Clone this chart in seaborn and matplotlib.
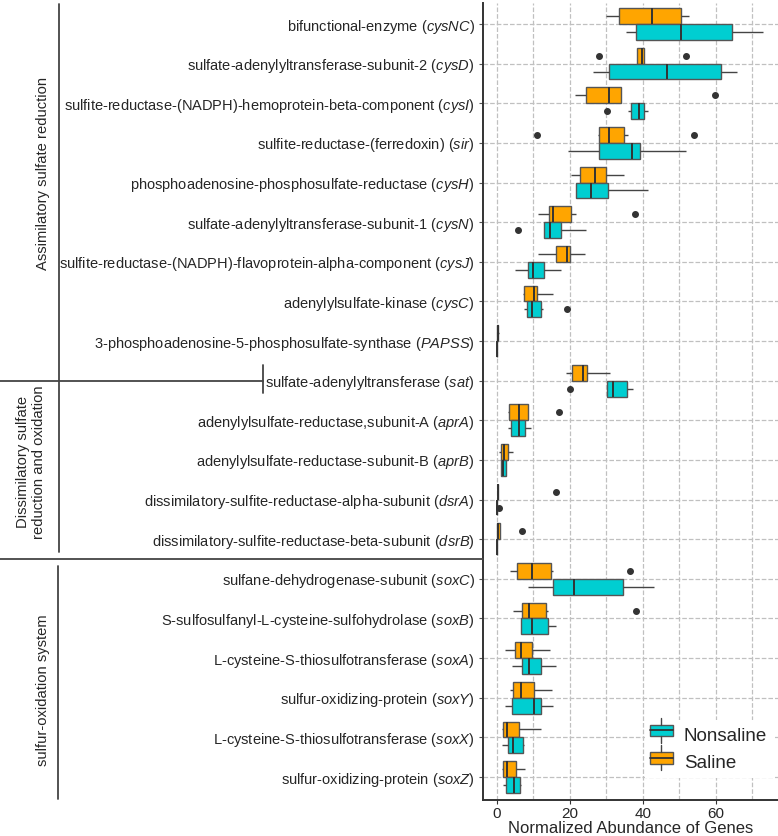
import pandas as pd
import matplotlib.pyplot as plt
import seaborn as sns
from matplotlib.lines import Line2D
from matplotlib.patches import Rectangle
from matplotlib.legend_handler import HandlerBase

# Genes (top to bottom) and their descriptions
genes = ['cysNC', 'cysD', 'cysI', 'sir', 'cysH', 'cysN', 'cysJ', 'cysC', 'PAPSS', 'sat',
         'aprA', 'aprB', 'dsrA', 'dsrB',
         'soxC', 'soxB', 'soxA', 'soxY', 'soxX', 'soxZ']
descricoes = ['bifunctional-enzyme',
              'sulfate-adenylyltransferase-subunit-2',
              'sulfite-reductase-(NADPH)-hemoprotein-beta-component',
              'sulfite-reductase-(ferredoxin)',
              'phosphoadenosine-phosphosulfate-reductase',
              'sulfate-adenylyltransferase-subunit-1',
              'sulfite-reductase-(NADPH)-flavoprotein-alpha-component',
              'adenylylsulfate-kinase',
              '3-phosphoadenosine-5-phosphosulfate-synthase',
              'sulfate-adenylyltransferase',
              'adenylylsulfate-reductase,subunit-A',
              'adenylylsulfate-reductase-subunit-B',
              'dissimilatory-sulfite-reductase-alpha-subunit',
              'dissimilatory-sulfite-reductase-beta-subunit',
              'sulfane-dehydrogenase-subunit',
              'S-sulfosulfanyl-L-cysteine-sulfohydrolase',
              'L-cysteine-S-thiosulfotransferase',
              'sulfur-oxidizing-protein',
              'L-cysteine-S-thiosulfotransferase',
              'sulfur-oxidizing-protein']

# Box summaries (whisker low, Q1, median, Q3, whisker high)
saline_lo  = [30.0, 38.3, 21.5, 27.8, 20.3, 11.4, 11.4, 7.1, 0.0, 18.8, 3.0, 0.7, 0.2, 0.0, 3.5, 4.3, 2.1, 3.5, 1.4, 1.5]
saline_q1  = [33.5, 38.5, 24.4, 28.0, 22.7, 14.4, 16.1, 7.5, 0.1, 20.6, 3.4, 1.2, 0.2, 0.0, 5.6, 7.0, 4.9, 4.5, 1.8, 1.6]
saline_med = [42.5, 39.7, 30.6, 30.6, 26.8, 15.3, 19.3, 10.3, 0.2, 23.5, 6.1, 1.9, 0.2, 0.2, 9.5, 8.9, 6.6, 6.5, 2.7, 2.7]
saline_q3  = [50.5, 40.2, 34.1, 34.8, 29.8, 20.2, 20.0, 11.1, 0.4, 24.8, 8.5, 3.0, 0.2, 0.9, 14.7, 13.4, 9.7, 10.3, 6.0, 5.2]
saline_hi  = [52.7, 40.3, 34.1, 36.0, 34.8, 21.6, 24.1, 15.5, 0.5, 30.9, 8.5, 4.5, 0.2, 0.9, 15.5, 14.1, 14.5, 15.0, 12.0, 7.8]
saline_out = {'cysD': [27.9, 51.8], 'cysI': [59.7], 'sir': [10.9, 53.9], 'cysN': [37.7],
              'aprA': [17.0], 'dsrA': [16.1], 'dsrB': [6.9], 'soxC': [36.5], 'soxB': [38.2]}

nonsaline_lo  = [35.5, 26.4, 35.9, 19.5, 21.7, 13.0, 5.0, 7.3, 0.0, 30.3, 3.0, 1.2, 0.0, 0.0, 8.4, 6.6, 4.2, 2.3, 1.5, 1.8]
nonsaline_q1  = [38.2, 30.7, 36.6, 28.0, 21.7, 13.0, 8.5, 8.3, 0.0, 30.3, 3.9, 1.2, 0.0, 0.0, 15.5, 6.6, 7.0, 4.2, 3.0, 2.6]
nonsaline_med = [50.5, 46.5, 38.9, 37.1, 25.8, 14.5, 9.8, 9.5, 0.0, 31.8, 6.1, 1.8, 0.0, 0.0, 21.2, 9.7, 8.9, 10.3, 4.5, 4.7]
nonsaline_q3  = [64.4, 61.4, 40.4, 39.2, 30.4, 17.6, 12.8, 12.1, 0.0, 35.6, 7.7, 2.5, 0.0, 0.0, 34.5, 13.9, 12.2, 12.2, 7.1, 6.4]
nonsaline_hi  = [72.9, 65.9, 41.4, 51.8, 41.4, 24.3, 17.5, 12.7, 0.0, 37.3, 9.3, 2.5, 0.0, 0.0, 43.0, 16.1, 16.2, 15.3, 7.5, 6.5]
nonsaline_out = {'cysI': [30.3], 'cysN': [5.7], 'cysC': [19.1], 'sat': [20.1], 'dsrA': [0.7]}

cores = {'Saline': '#FFA500', 'Nonsaline': '#00CED1'}


# Turns each summary into observations that reproduce the same quartiles
def montar_dados():
    linhas = []
    grupos = [('Saline', saline_lo, saline_q1, saline_med, saline_q3, saline_hi, saline_out),
              ('Nonsaline', nonsaline_lo, nonsaline_q1, nonsaline_med, nonsaline_q3, nonsaline_hi, nonsaline_out)]
    for nome, lo, q1, med, q3, hi, out in grupos:
        for i, g in enumerate(genes):
            valores = [lo[i]] + [q1[i]] * 4 + [med[i]] * 3 + [q3[i]] * 4 + [hi[i]] + out.get(g, [])
            for v in valores:
                linhas.append({'Gene': g, 'Grupo': nome, 'Valor': v})
    return pd.DataFrame(linhas)


class ChaveBox(HandlerBase):
    def create_artists(self, legend, orig, xd, yd, w, h, fontsize, trans):
        r = Rectangle((xd, yd + h * 0.15), w, h * 0.7, facecolor=orig.get_facecolor(),
                      edgecolor='#555555', lw=1, transform=trans)
        med = Line2D([xd, xd + w], [yd + h / 2] * 2, color='#333333', lw=1.3, transform=trans)
        w1 = Line2D([xd + w / 2] * 2, [yd - h * 0.25, yd + h * 0.15], color='#444444', lw=1, transform=trans)
        w2 = Line2D([xd + w / 2] * 2, [yd + h * 0.85, yd + h * 1.25], color='#444444', lw=1, transform=trans)
        return [r, med, w1, w2]


dados = montar_dados()

sns.set_style('white')
plt.rcParams['font.family'] = ['Liberation Sans', 'DejaVu Sans']
plt.rcParams['mathtext.fontset'] = 'custom'
plt.rcParams['mathtext.rm'] = 'Liberation Sans'
plt.rcParams['mathtext.it'] = 'Liberation Sans:italic'

fig = plt.figure(figsize=(7.78, 8.36), dpi=100)
ax = fig.add_axes([483 / 778, 1 - 800 / 836, 295 / 778, 797 / 836])

sns.boxplot(data=dados, x='Valor', y='Gene', hue='Grupo', order=genes,
            hue_order=['Saline', 'Nonsaline'], palette=cores, orient='h',
            width=0.8, gap=0, saturation=1, linecolor='#555555', linewidth=1,
            showcaps=False,
            flierprops=dict(marker='o', markerfacecolor='#333333', markeredgecolor='#333333', markersize=4),
            medianprops=dict(color='#333333', linewidth=1.4),
            whiskerprops=dict(color='#444444', linewidth=1),
            legend=False, ax=ax)

ax.set_xlim(-3.8, 77)
ax.set_ylim(19.58, -0.53)
ax.set_xticks([0, 20, 40, 60])
ax.set_xticks([10, 30, 50, 70], minor=True)
ax.set_yticks(range(len(genes)))
ax.set_yticklabels([f'{d} ($\\mathit{{{g}}}$)' for d, g in zip(descricoes, genes)], fontsize=10.5)
ax.tick_params(axis='x', labelsize=11, length=3, color='#333333', pad=2)
ax.tick_params(axis='x', which='minor', length=0)
ax.tick_params(axis='y', length=3, color='#555555', pad=3, left=True)
ax.tick_params(axis='x', bottom=True)
ax.set_xlabel('Normalized Abundance of Genes', fontsize=12, labelpad=0)
ax.set_ylabel('')
ax.grid(True, which='both', linestyle='--', color='#c0c0c0', linewidth=0.9)
ax.set_axisbelow(True)
for lado in ['top', 'right']:
    ax.spines[lado].set_visible(False)
for lado in ['left', 'bottom']:
    ax.spines[lado].set_color('#333333')
    ax.spines[lado].set_linewidth(1.4)

# Legenda com chaves no estilo boxplot
h_non = Rectangle((0, 0), 1, 1, facecolor=cores['Nonsaline'])
h_sal = Rectangle((0, 0), 1, 1, facecolor=cores['Saline'])
leg = ax.legend([h_non, h_sal], ['Nonsaline', 'Saline'], handler_map={Rectangle: ChaveBox()},
                loc='center', bbox_to_anchor=(0.765, 0.064), fontsize=13.5, frameon=True,
                handlelength=1.2, handleheight=1.0, handletextpad=0.6, labelspacing=0.45,
                borderpad=0.3, fancybox=False)
leg.get_frame().set_edgecolor('none')
leg.get_frame().set_facecolor('white')
leg.get_frame().set_alpha(1)

# Colchetes e rótulos dos grupos de vias à esquerda
def px(x, y):
    return x / 778, 1 - y / 836

linhas_grupo = [((59, 4), (59, 552)), ((0, 381), (263, 381)), ((263, 365), (263, 393)),
                ((0, 559), (483, 559)), ((58, 566), (58, 799))]
for (x0, y0), (x1, y1) in linhas_grupo:
    a, b = px(x0, y0)
    c, d = px(x1, y1)
    fig.add_artist(Line2D([a, c], [b, d], transform=fig.transFigure, color='#444444', linewidth=1.3))

fig.text(*px(43, 173), 'Assimilatory sulfate reduction', rotation=90, ha='center', va='center', fontsize=10.6)
fig.text(*px(31, 462), 'Dissimilatory sulfate\nreduction and oxidation', rotation=90,
         ha='center', va='center', fontsize=10.6, multialignment='center')
fig.text(*px(43, 690), 'sulfur-oxidation system', rotation=90, ha='center', va='center', fontsize=10.6)

fig.savefig('out.png', dpi=100)
